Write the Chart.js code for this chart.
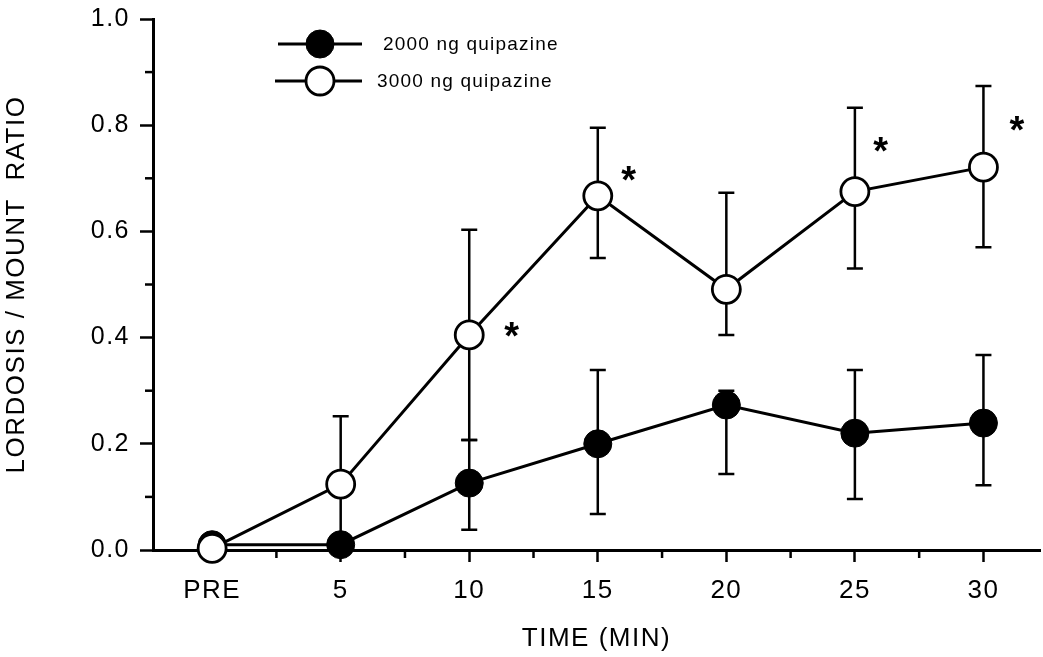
<!DOCTYPE html>
<html><head><meta charset="utf-8">
<script src="https://cdn.jsdelivr.net/npm/chart.js@4.4.1/dist/chart.umd.min.js"></script>
<style>html,body{margin:0;padding:0;background:#fff;} canvas{display:block;}</style>
</head><body>
<canvas id="c" width="1043" height="657"></canvas>
<script>
// ---- data ----
const categories = ['PRE', '5', '10', '15', '20', '25', '30'];
const dose2000 = [0.010, 0.010, 0.126, 0.200, 0.273, 0.220, 0.239];
const dose2000Upper = [null, null, 0.207, 0.339, 0.300, 0.339, 0.367];
const dose2000Lower = [null, null, 0.038, 0.068, 0.143, 0.096, 0.122];
const dose3000 = [0.003, 0.124, 0.405, 0.667, 0.491, 0.675, 0.721];
const dose3000Upper = [null, 0.252, 0.603, 0.795, 0.673, 0.833, 0.874];
const dose3000Lower = [null, 0.010, 0.207, 0.550, 0.405, 0.530, 0.570];
const starX = [2.33, 3.24, 5.20, 6.26];
const starY = [0.418, 0.712, 0.767, 0.806];
const yMinorTicks = [0.1, 0.3, 0.5, 0.7, 0.9];
const xMinorTicks = [0.5, 1.5, 2.5, 3.5, 4.5, 5.5];

const FONT = "'Liberation Sans', Arial, Helvetica, sans-serif";
const toPts = arr => arr.map((v, i) => ({ x: i, y: v }));

const spacingPlugin = {
  id: 'spacing',
  beforeDraw(chart) { chart.ctx.letterSpacing = '1.5px'; }
};

const errorBars = {
  id: 'errorBars',
  beforeDatasetsDraw(chart) {
    const ctx = chart.ctx, xs = chart.scales.x, ys = chart.scales.y;
    ctx.save();
    ctx.strokeStyle = '#000';
    ctx.lineWidth = 2.5;
    const cap = 8;
    chart.data.datasets.forEach(ds => {
      ds.data.forEach((p, i) => {
        const px = xs.getPixelForValue(p.x);
        const py = ys.getPixelForValue(p.y);
        [ds.upper[i], ds.lower[i]].forEach(v => {
          if (v == null) return;
          const ey = ys.getPixelForValue(v);
          ctx.beginPath();
          ctx.moveTo(px, py); ctx.lineTo(px, ey);
          ctx.moveTo(px - cap, ey); ctx.lineTo(px + cap, ey);
          ctx.stroke();
        });
      });
    });
    // minor ticks
    yMinorTicks.forEach(v => {
      const y = ys.getPixelForValue(v);
      ctx.beginPath(); ctx.moveTo(chart.chartArea.left - 8, y); ctx.lineTo(chart.chartArea.left, y); ctx.stroke();
    });
    xMinorTicks.forEach(v => {
      const x = xs.getPixelForValue(v);
      ctx.beginPath(); ctx.moveTo(x, chart.chartArea.bottom); ctx.lineTo(x, chart.chartArea.bottom + 8); ctx.stroke();
    });
    ctx.restore();
  },
  afterDatasetsDraw(chart) {
    const ctx = chart.ctx, xs = chart.scales.x, ys = chart.scales.y;
    ctx.save();
    ctx.fillStyle = '#000';
    const starSize = 38;
    ctx.font = 'bold ' + starSize + 'px ' + FONT;
    ctx.textAlign = 'center';
    ctx.textBaseline = 'alphabetic';
    ctx.letterSpacing = '0px';
    starX.forEach((sx, i) => {
      ctx.fillText('*', xs.getPixelForValue(sx), ys.getPixelForValue(starY[i]) + 0.56 * starSize);
    });
    // legend
    const rows = [chart.data.datasets[1], chart.data.datasets[0]];
    const rowY = [44, 81];
    const lineX = [[278, 362], [275, 362]];
    const textX = [383, 377];
    ctx.font = '19px ' + FONT;
    ctx.letterSpacing = '1.2px';
    ctx.textAlign = 'left';
    ctx.textBaseline = 'middle';
    rows.forEach((ds, r) => {
      const y = rowY[r];
      ctx.strokeStyle = '#000';
      ctx.lineWidth = 3;
      ctx.beginPath(); ctx.moveTo(lineX[r][0], y); ctx.lineTo(lineX[r][1], y); ctx.stroke();
      ctx.beginPath();
      ctx.arc(320, y, ds.pointRadius, 0, Math.PI * 2);
      ctx.fillStyle = ds.pointBackgroundColor;
      ctx.fill();
      ctx.lineWidth = ds.pointBorderWidth;
      ctx.stroke();
      ctx.fillStyle = '#000';
      ctx.fillText(ds.label, textX[r], y + 1);
    });
    ctx.restore();
  }
};

new Chart(document.getElementById('c'), {
  type: 'line',
  data: {
    datasets: [
      {
        label: '3000 ng quipazine', data: toPts(dose3000), upper: dose3000Upper, lower: dose3000Lower,
        borderColor: '#000', borderWidth: 3, pointRadius: 14, pointHoverRadius: 14,
        pointBackgroundColor: '#fff', pointBorderColor: '#000', pointBorderWidth: 2.8,
        tension: 0, clip: false
      },
      {
        label: '2000 ng quipazine', data: toPts(dose2000), upper: dose2000Upper, lower: dose2000Lower,
        borderColor: '#000', borderWidth: 3, pointRadius: 14, pointHoverRadius: 14,
        pointBackgroundColor: '#000', pointBorderColor: '#000', pointBorderWidth: 1,
        tension: 0, clip: false
      }
    ]
  },
  options: {
    responsive: false,
    animation: false,
    devicePixelRatio: 1,
    layout: { autoPadding: false, padding: { top: 19, right: 3, left: 0, bottom: 0 } },
    plugins: { legend: { display: false }, tooltip: { enabled: false } },
    scales: {
      x: {
        type: 'linear', min: -0.46, max: 6.44,
        afterBuildTicks: s => { s.ticks = categories.map((_, i) => ({ value: i })); },
        afterFit: s => { s.height = 107; s.paddingLeft = 0; s.paddingRight = 0; },
        ticks: {
          callback: v => categories[v], color: '#000', padding: 13,
          font: { family: FONT, size: 26 }, maxRotation: 0, autoSkip: false
        },
        grid: { drawOnChartArea: false, drawTicks: true, tickLength: 12, tickWidth: 2.5, tickColor: '#000' },
        border: { display: true, color: '#000', width: 3 },
        title: {
          display: true, text: 'TIME (MIN)', color: '#000',
          font: { family: FONT, size: 26 }, padding: { top: 0, bottom: 3 }
        }
      },
      y: {
        min: 0, max: 1,
        ticks: {
          stepSize: 0.2, color: '#000', padding: 10,
          callback: v => v.toFixed(1),
          font: { family: FONT, size: 25 }
        },
        afterFit: s => { s.width = 153; s.paddingTop = 0; s.paddingBottom = 0; },
        grid: { drawOnChartArea: false, drawTicks: true, tickLength: 13, tickWidth: 2.5, tickColor: '#000' },
        border: { display: true, color: '#000', width: 3 },
        title: {
          display: true, text: 'LORDOSIS / MOUNT  RATIO', color: '#000',
          font: { family: FONT, size: 26 }, padding: { top: 1, bottom: 0 }
        }
      }
    }
  },
  plugins: [spacingPlugin, errorBars]
});
</script>
</body></html>
